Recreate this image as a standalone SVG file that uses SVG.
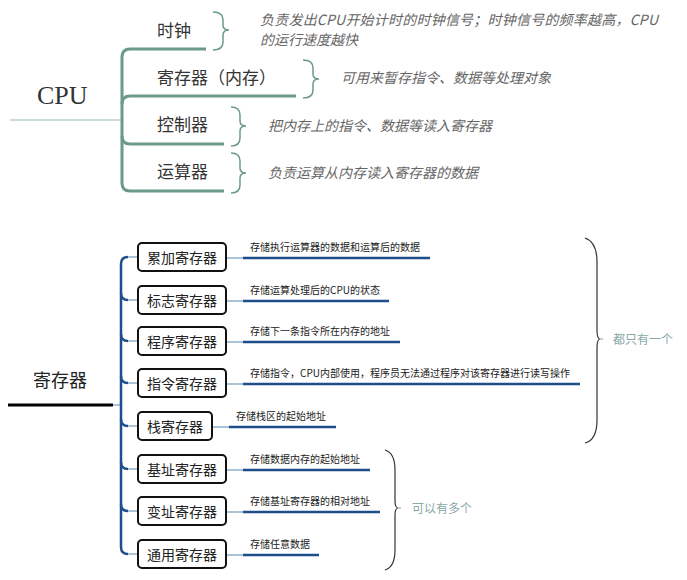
<svg xmlns="http://www.w3.org/2000/svg" width="687" height="580" viewBox="0 0 687 580">
<style>
.cjk{font-family:"Noto Sans CJK SC","Liberation Sans",sans-serif}
.topnode{font-size:17px;fill:#333}
.desc{font-size:14px;fill:#666;font-style:italic}
.tline{fill:none;stroke:#6b9a8c;stroke-width:3}
.tbrace{fill:none;stroke:#6b9a8c;stroke-width:1.5}
.box{fill:#fff;stroke:#111;stroke-width:2}
.blabel{font-size:14px;fill:#222;text-anchor:middle}
.bdesc{font-size:10px;fill:#222}
.dark{fill:none;stroke:#1f4e8c;stroke-width:2.5}
.light{fill:none;stroke:#8fb0cc;stroke-width:1.5}
.bbrace{fill:none;stroke:#333;stroke-width:1.2}
.note{font-size:12px;fill:#8aa8a8}
</style>
<rect width="687" height="580" fill="#fff"/>

<!-- CPU section -->
<g id="connectors-cpu">
  <path d="M10,120 H122" fill="none" stroke="#b9cfc8" stroke-width="1.5"/>
  <path class="tline" d="M122,120 V57 Q122,49 130,49 H206"/>
  <path class="tline" d="M122,104 Q122,96 130,96 H296"/>
  <path class="tline" d="M122,136 Q122,144 130,144 H224"/>
  <path class="tline" d="M122,120 V183 Q122,191 130,191 H224"/>
  <path class="tbrace" d="M213,12 Q223,12 223,20 V25 Q223,30 229,30 Q223,30 223,35 V42 Q223,50 213,50"/>
  <path class="tbrace" d="M303,60 Q313,60 313,68 V74 Q313,79 319,79 Q313,79 313,84 V90 Q313,98 303,98"/>
  <path class="tbrace" d="M231,107 Q240,107 240,115 V121 Q240,126 246,126 Q240,126 240,131 V138 Q240,146 231,146" stroke="#b9cfc8"/>
  <path class="tbrace" d="M231,153 Q240,153 240,161 V168 Q240,173 246,173 Q240,173 240,178 V185 Q240,193 231,193"/>
</g>
<g id="cpu"><text x="37" y="104" font-family="Liberation Serif,serif" font-size="26" fill="#333">CPU</text></g>
<g id="clock">
  <text class="cjk topnode" x="157" y="37">时钟</text>
  <text class="cjk desc" x="260" y="25" textLength="398" lengthAdjust="spacing">负责发出CPU开始计时的时钟信号；时钟信号的频率越高，CPU</text>
  <text class="cjk desc" x="260" y="45">的运行速度越快</text>
</g>
<g id="register-mem">
  <text class="cjk topnode" x="157" y="84">寄存器（内存）</text>
  <text class="cjk desc" x="341" y="83">可用来暂存指令、数据等处理对象</text>
</g>
<g id="controller">
  <text class="cjk topnode" x="157" y="131">控制器</text>
  <text class="cjk desc" x="268" y="131">把内存上的指令、数据等读入寄存器</text>
</g>
<g id="alu">
  <text class="cjk topnode" x="157" y="178">运算器</text>
  <text class="cjk desc" x="268" y="178">负责运算从内存读入寄存器的数据</text>
</g>

<!-- Register section -->
<g id="connectors-reg">
  <path d="M8,405 H113" stroke="#000" stroke-width="3" fill="none"/>
  <path d="M113,405 H121" class="light"/>
  <path class="dark" d="M128,257 Q121,257 121,264 V547 Q121,554 128,554" stroke-width="3"/>
  <path class="light" d="M128,257 H138 M128,554 H138"/>
  <path class="dark" d="M121,293 Q121,300 128,300 M121,334 Q121,341 128,341 M121,376 Q121,383 128,383 M121,419 Q121,426 128,426 M121,462 Q121,469 128,469 M121,504 Q121,511 128,511" stroke-width="2"/>
  <path class="light" d="M128,300 H138 M128,341 H138 M128,383 H138 M128,426 H138 M128,469 H138 M128,511 H138"/>
  <path class="light" d="M226,258 H243 M226,301 H243 M226,342 H243 M226,384 H243 M212,427 H229 M226,470 H243 M226,512 H243 M226,555 H243"/>
  <path class="dark" d="M243,258 H430 M243,301 H389 M243,342 H400 M243,384 H580 M229,427 H336 M243,470 H370 M243,512 H380 M243,555 H319"/>
  <path class="bbrace" d="M585,238 Q597,242 597,262 V330 Q597,339 600,339 Q597,339 597,348 V420 Q597,440 585,443"/>
  <path d="M598,339 H603" stroke="#999" stroke-width="1"/>
  <path class="bbrace" d="M385,450 Q395,453 395,470 V500 Q395,508 398,508 Q395,508 395,516 V550 Q395,567 385,570"/>
  <path d="M396,508 H401" stroke="#999" stroke-width="1"/>
</g>
<g id="registers"><text class="cjk" x="33" y="387" font-size="18" fill="#222">寄存器</text></g>
<g id="acc">
  <rect class="box" x="138" y="243" width="88" height="28" rx="4"/>
  <text class="cjk blabel" x="182" y="263">累加寄存器</text>
  <text class="cjk bdesc" x="250" y="251">存储执行运算器的数据和运算后的数据</text>
</g>
<g id="flag">
  <rect class="box" x="138" y="286" width="88" height="28" rx="4"/>
  <text class="cjk blabel" x="182" y="306">标志寄存器</text>
  <text class="cjk bdesc" x="250" y="294">存储运算处理后的CPU的状态</text>
</g>
<g id="pc">
  <rect class="box" x="138" y="327" width="88" height="28" rx="4"/>
  <text class="cjk blabel" x="182" y="347">程序寄存器</text>
  <text class="cjk bdesc" x="250" y="335">存储下一条指令所在内存的地址</text>
</g>
<g id="ir">
  <rect class="box" x="138" y="369" width="88" height="28" rx="4"/>
  <text class="cjk blabel" x="182" y="389">指令寄存器</text>
  <text class="cjk bdesc" x="250" y="377">存储指令，CPU内部使用，程序员无法通过程序对该寄存器进行读写操作</text>
</g>
<g id="sp">
  <rect class="box" x="138" y="412" width="74" height="28" rx="4"/>
  <text class="cjk blabel" x="175" y="432">栈寄存器</text>
  <text class="cjk bdesc" x="236" y="420">存储栈区的起始地址</text>
</g>
<g id="base">
  <rect class="box" x="138" y="455" width="88" height="28" rx="4"/>
  <text class="cjk blabel" x="182" y="475">基址寄存器</text>
  <text class="cjk bdesc" x="250" y="463">存储数据内存的起始地址</text>
</g>
<g id="index">
  <rect class="box" x="138" y="497" width="88" height="28" rx="4"/>
  <text class="cjk blabel" x="182" y="517">变址寄存器</text>
  <text class="cjk bdesc" x="250" y="505">存储基址寄存器的相对地址</text>
</g>
<g id="general">
  <rect class="box" x="138" y="540" width="88" height="28" rx="4"/>
  <text class="cjk blabel" x="182" y="560">通用寄存器</text>
  <text class="cjk bdesc" x="250" y="548">存储任意数据</text>
</g>
<g id="only-one"><text class="cjk note" x="613" y="344">都只有一个</text></g>
<g id="many"><text class="cjk note" x="412" y="513">可以有多个</text></g>
</svg>
